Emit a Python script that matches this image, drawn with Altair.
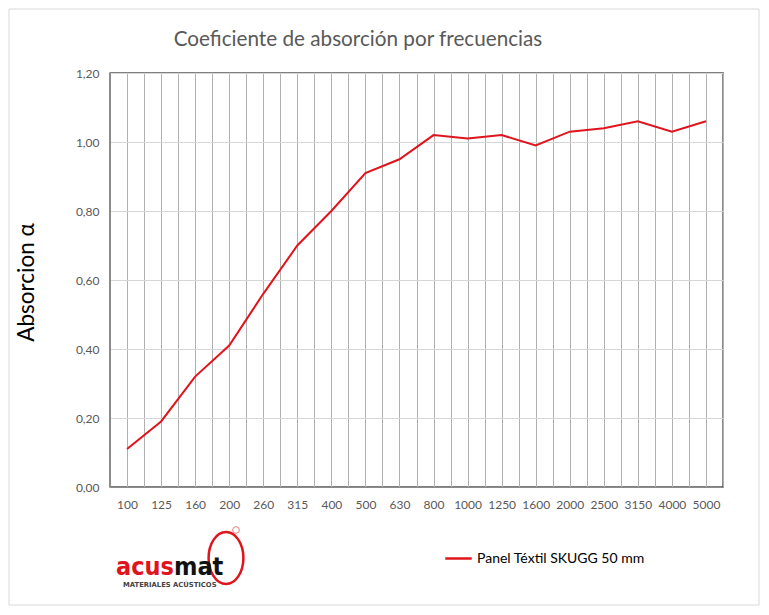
import altair as alt
import pandas as pd

freqs = ["100", "125", "160", "200", "260", "315", "400", "500", "630", "800",
         "1000", "1250", "1600", "2000", "2500", "3150", "4000", "5000"]
alpha = [0.11, 0.19, 0.32, 0.41, 0.56, 0.70, 0.80, 0.91, 0.95, 1.02,
         1.01, 1.02, 0.99, 1.03, 1.04, 1.06, 1.03, 1.06]
serie = "Panel Téxtil SKUGG 50 mm"
y_ticks = [0, 0.2, 0.4, 0.6, 0.8, 1.0, 1.2]
title_text = "Coeficiente de absorción por frecuencias"

FONT = "Lato"
RED = "#e0141c"
W, H = 613, 414

df = pd.DataFrame({"idx": list(range(len(freqs))), "freq": freqs,
                   "alpha": alpha, "serie": [serie] * len(freqs)})

half_steps = [i / 2 - 0.5 for i in range(2 * len(freqs) + 1)]
arr = "[" + ",".join("'%s'" % f for f in freqs) + "]"

x_enc = alt.X("idx:Q",
              scale=alt.Scale(domain=[-0.5, len(freqs) - 0.5], nice=False, zero=False),
              axis=alt.Axis(values=half_steps, grid=True, gridColor="#b0b0b0", gridWidth=1,
                            ticks=False, domainColor="#8c8c8c", labelFont=FONT,
                            labelFontSize=12, labelColor="#595959", labelPadding=12,
                            labelExpr="datum.value % 1 == 0 ? " + arr + "[datum.value] : ''",
                            title=None, labelFlush=False, labelOverlap=False))
y_enc = alt.Y("alpha:Q",
              scale=alt.Scale(domain=[0, 1.2], nice=False),
              axis=alt.Axis(values=y_ticks, grid=True, gridColor="#d6d6d6", ticks=False,
                            domainColor="#8c8c8c", labelFont=FONT, labelFontSize=12,
                            labelColor="#595959", labelPadding=11,
                            labelExpr="replace(format(datum.value, '.2f'), '.', ',')",
                            title="Absorcion α", titleFont=FONT, titleFontSize=22.5,
                            titleFontWeight="normal", titleColor="#000000", titleAngle=-90,
                            titleX=-84, titleY=209, titleAlign="center", titleBaseline="middle"))

line = alt.Chart(df).mark_line(strokeWidth=2, clip=False).encode(
    x=x_enc, y=y_enc,
    color=alt.Color("serie:N", scale=alt.Scale(range=[RED]),
                    legend=alt.Legend(title=None, orient="none", legendX=334, legendY=471,
                                      symbolType="stroke", symbolSize=700,
                                      symbolStrokeWidth=2.5, labelFont=FONT,
                                      labelFontSize=14, labelColor="#000000",
                                      labelOffset=4, labelLimit=400)))

one = pd.DataFrame({"a": [0]})

border = alt.Chart(one).mark_rect(fill="transparent", stroke="#d9d9d9", strokeWidth=1,
                                  clip=False).encode(
    x=alt.value(-101), x2=alt.value(W + 36), y=alt.value(-64), y2=alt.value(H + 118))

title = alt.Chart(one).mark_text(text=title_text, font=FONT, fontSize=20.7, color="#595959",
                                 align="center", baseline="middle").encode(
    x=alt.value(248), y=alt.value(-33))

logo_ring = alt.Chart(one).mark_point(
    shape="M -0.67,0 A 0.67,1 0 1,1 0.67,0 A 0.67,1 0 1,1 -0.67,0 Z",
    size=2700, filled=False, stroke=RED, strokeWidth=2.5, opacity=1).encode(
    x=alt.value(116), y=alt.value(485))
logo_dot = alt.Chart(one).mark_point(shape="circle", size=45, filled=False,
                                     stroke="#e88080", strokeWidth=1, opacity=1).encode(
    x=alt.value(126), y=alt.value(457))
logo_acus = alt.Chart(one).mark_text(text="acus", font="DejaVu Sans Condensed", fontSize=25,
                                     fontWeight="bold", color=RED, align="right",
                                     baseline="alphabetic").encode(
    x=alt.value(64), y=alt.value(502))
logo_mat = alt.Chart(one).mark_text(text="mat", font="DejaVu Sans Condensed", fontSize=25,
                                    fontWeight="bold", color="#111111", align="left",
                                    baseline="alphabetic").encode(
    x=alt.value(64), y=alt.value(502))
logo_sub = alt.Chart(one).mark_text(text="MATERIALES ACÚSTICOS", font="DejaVu Sans",
                                    fontSize=6.8, fontWeight="bold", color="#444444",
                                    align="left", baseline="middle"
                                    ).encode(x=alt.value(13), y=alt.value(512))

chart = alt.layer(border, line, title, logo_ring, logo_dot, logo_acus, logo_mat,
                  logo_sub).properties(
    width=W, height=H,
    autosize=alt.AutoSizeParams(type="none"),
    padding={"left": 102, "top": 65, "right": 38, "bottom": 120},
    background="#ffffff",
).configure_view(stroke="#000000", strokeWidth=1.3)

chart.save("out.html", embed_options={"renderer": "svg", "actions": False})
